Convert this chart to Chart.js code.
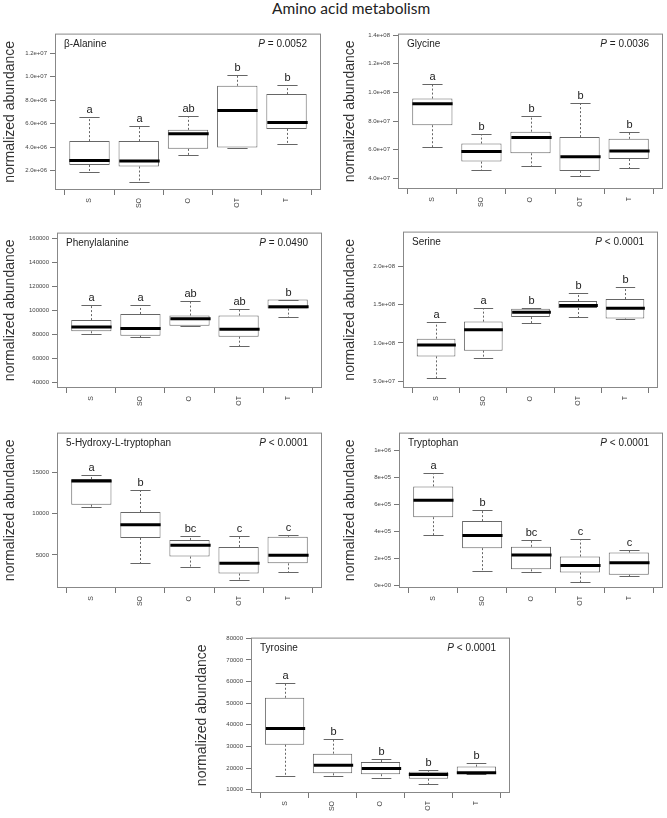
<!DOCTYPE html>
<html lang="en">
<head>
<meta charset="UTF-8">
<title>Amino acid metabolism</title>
<script src="https://cdn.jsdelivr.net/npm/chart.js"></script>
<style>
  body { margin: 0; width: 667px; height: 818px; overflow: hidden; background: #fff; position: relative; }
  #mainTitle { position: absolute; left: 272px; top: 0; font: 15.5px Lato, "Open Sans", sans-serif; line-height: 17px; color: #222; white-space: nowrap; }
  canvas { position: absolute; }
</style>
</head>
<body>
<div id="mainTitle">Amino acid metabolism</div>
<canvas id="c1"></canvas>
<canvas id="c2"></canvas>
<canvas id="c3"></canvas>
<canvas id="c4"></canvas>
<canvas id="c5"></canvas>
<canvas id="c6"></canvas>
<canvas id="c7"></canvas>
<script>
const groups = ['S', 'SO', 'O', 'OT', 'T'];

// β-Alanine
const alaMin = [1.86e6, 1.04e6, 3.37e6, 3.92e6, 4.27e6];
const alaQ1 = [2.49e6, 2.36e6, 3.86e6, 3.97e6, 5.56e6];
const alaMed = [2.88e6, 2.82e6, 5.15e6, 7.12e6, 6.11e6];
const alaQ3 = [4.52e6, 4.52e6, 5.48e6, 9.23e6, 8.52e6];
const alaMax = [6.58e6, 5.78e6, 6.66e6, 10.14e6, 9.26e6];
const alaLetters = ['a', 'a', 'ab', 'b', 'b'];
const alaTicks = [2e6, 4e6, 6e6, 8e6, 1e7, 1.2e7];
const alaTickLabels = ['2.0e+06', '4.0e+06', '6.0e+06', '8.0e+06', '1.0e+07', '1.2e+07'];
const alaRange = [0.36e6, 13.67e6];

// Glycine
const glyMin = [6.2e7, 4.56e7, 4.83e7, 4.16e7, 4.74e7];
const glyQ1 = [7.71e7, 5.17e7, 5.75e7, 4.52e7, 5.35e7];
const glyMed = [9.21e7, 5.87e7, 6.85e7, 5.51e7, 5.91e7];
const glyQ3 = [9.57e7, 6.43e7, 7.26e7, 6.88e7, 6.76e7];
const glyMax = [10.58e7, 7.08e7, 8.38e7, 9.24e7, 7.26e7];
const glyLetters = ['a', 'b', 'b', 'b', 'b'];
const glyTicks = [4e7, 6e7, 8e7, 1e8, 1.2e8, 1.4e8];
const glyTickLabels = ['4.0e+07', '6.0e+07', '8.0e+07', '1.0e+08', '1.2e+08', '1.4e+08'];
const glyRange = [3.26e7, 1.41e8];

// Phenylalanine
const pheMin = [80500, 77300, 86400, 69900, 94400];
const pheQ1 = [82400, 78700, 86900, 77900, 101300];
const pheMed = [85900, 84800, 92800, 84000, 102700];
const pheQ3 = [91700, 96800, 95500, 95500, 108800];
const pheMax = [104500, 104500, 107200, 100800, 108800];
const pheLetters = ['a', 'a', 'ab', 'ab', 'b'];
const pheTicks = [40000, 60000, 80000, 100000, 120000, 140000, 160000];
const pheTickLabels = ['40000', '60000', '80000', '100000', '120000', '140000', '160000'];
const pheRange = [35200, 164500];

// Serine
const serMin = [5.42e7, 8.07e7, 12.65e7, 13.36e7, 13.15e7];
const serQ1 = [8.24e7, 8.99e7, 13.36e7, 14.54e7, 13.19e7];
const serMed = [9.71e7, 11.72e7, 13.99e7, 14.87e7, 14.5e7];
const serQ3 = [10.55e7, 12.77e7, 14.45e7, 15.46e7, 15.71e7];
const serMax = [12.73e7, 14.54e7, 14.5e7, 16.51e7, 17.23e7];
const serLetters = ['a', 'a', 'b', 'b', 'b'];
const serTicks = [5e7, 1e8, 1.5e8, 2e8];
const serTickLabels = ['5.0e+07', '1.0e+08', '1.5e+08', '2.0e+08'];
const serRange = [4.12e7, 2.45e8];

// 5-Hydroxy-L-tryptophan
const htpMin = [10830, 3990, 3530, 1990, 2950];
const htpQ1 = [11060, 7050, 4810, 2760, 3990];
const htpMed = [13920, 8630, 6160, 3990, 4960];
const htpQ3 = [14150, 10180, 6810, 5970, 7200];
const htpMax = [14650, 12880, 7280, 7320, 7390];
const htpLetters = ['a', 'b', 'bc', 'c', 'c'];
const htpTicks = [5000, 10000, 15000];
const htpTickLabels = ['5000', '10000', '15000'];
const htpRange = [1020, 19750];

// Tryptophan
const trpMin = [3.74e5, 1.05e5, 1.0e5, 0.24e5, 0.67e5];
const trpQ1 = [5.05e5, 2.76e5, 1.19e5, 0.95e5, 0.79e5];
const trpMed = [6.31e5, 3.69e5, 2.26e5, 1.48e5, 1.67e5];
const trpQ3 = [7.33e5, 4.76e5, 2.86e5, 2.14e5, 2.43e5];
const trpMax = [8.33e5, 5.57e5, 3.33e5, 3.4e5, 2.62e5];
const trpLetters = ['a', 'b', 'bc', 'c', 'c'];
const trpTicks = [0, 2e5, 4e5, 6e5, 8e5, 1e6];
const trpTickLabels = ['0e+00', '2e+05', '4e+05', '6e+05', '8e+05', '1e+06'];
const trpRange = [-0.19e5, 1.131e6];

// Tyrosine
const tyrMin = [16500, 16200, 15400, 12700, 17400];
const tyrQ1 = [30800, 17600, 17200, 15100, 17500];
const tyrMed = [38300, 21300, 19800, 17000, 17900];
const tyrQ3 = [52500, 26700, 22800, 18300, 20700];
const tyrMax = [59500, 33500, 24300, 19000, 22400];
const tyrLetters = ['a', 'b', 'b', 'b', 'b'];
const tyrTicks = [10000, 20000, 30000, 40000, 50000, 60000, 70000, 80000];
const tyrTickLabels = ['10000', '20000', '30000', '40000', '50000', '60000', '70000', '80000'];
const tyrRange = [8510, 80300];

// plot box [left, top, right, bottom] and x of the y-axis title, page pixels
const panels = [
  { id: 'c1', name: 'β-Alanine', p: ' = 0.0052', min: alaMin, q1: alaQ1, med: alaMed, q3: alaQ3, max: alaMax,
    letters: alaLetters, ticks: alaTicks, tickLabels: alaTickLabels, range: alaRange, box: [55, 28, 321, 190], titleX: 10 },
  { id: 'c2', name: 'Glycine', p: ' = 0.0036', min: glyMin, q1: glyQ1, med: glyMed, q3: glyQ3, max: glyMax,
    letters: glyLetters, ticks: glyTicks, tickLabels: glyTickLabels, range: glyRange, box: [398, 28, 663, 189], titleX: 350 },
  { id: 'c3', name: 'Phenylalanine', p: ' = 0.0490', min: pheMin, q1: pheQ1, med: pheMed, q3: pheQ3, max: pheMax,
    letters: pheLetters, ticks: pheTicks, tickLabels: pheTickLabels, range: pheRange, box: [57, 227, 322, 388], titleX: 10 },
  { id: 'c4', name: 'Serine', p: ' < 0.0001', min: serMin, q1: serQ1, med: serMed, q3: serQ3, max: serMax,
    letters: serLetters, ticks: serTicks, tickLabels: serTickLabels, range: serRange, box: [403, 226, 658, 388], titleX: 350 },
  { id: 'c5', name: '5-Hydroxy-L-tryptophan', p: ' < 0.0001', min: htpMin, q1: htpQ1, med: htpMed, q3: htpQ3, max: htpMax,
    letters: htpLetters, ticks: htpTicks, tickLabels: htpTickLabels, range: htpRange, box: [57, 427, 322, 588], titleX: 10 },
  { id: 'c6', name: 'Tryptophan', p: ' < 0.0001', min: trpMin, q1: trpQ1, med: trpMed, q3: trpQ3, max: trpMax,
    letters: trpLetters, ticks: trpTicks, tickLabels: trpTickLabels, range: trpRange, box: [399, 427, 663, 588], titleX: 350 },
  { id: 'c7', name: 'Tyrosine', p: ' < 0.0001', min: tyrMin, q1: tyrQ1, med: tyrMed, q3: tyrQ3, max: tyrMax,
    letters: tyrLetters, ticks: tyrTicks, tickLabels: tyrTickLabels, range: tyrRange, box: [251, 632, 510, 793], titleX: 202 }
];

const FONT = '"Liberation Sans", Arial, sans-serif';

function line(ctx, x1, y1, x2, y2) {
  ctx.beginPath();
  ctx.moveTo(x1, y1);
  ctx.lineTo(x2, y2);
  ctx.stroke();
}

// whiskers, medians, letters, frame and the panel labels
function boxPlugin(p) {
  return {
    id: 'boxPlot',
    afterDatasetsDraw(chart) {
      const { ctx, chartArea: a, scales: { x, y } } = chart;
      const meta = chart.getDatasetMeta(0);
      ctx.save();
      groups.forEach((g, i) => {
        const cx = Math.round(x.getPixelForValue(i + 1)) + 0.5;
        const hw = meta.data[i].width / 2;
        const yMin = Math.round(y.getPixelForValue(p.min[i])) + 0.5;
        const yQ1 = y.getPixelForValue(p.q1[i]);
        const yMed = y.getPixelForValue(p.med[i]);
        const yQ3 = y.getPixelForValue(p.q3[i]);
        const yMax = Math.round(y.getPixelForValue(p.max[i])) + 0.5;

        ctx.strokeStyle = '#666';
        ctx.lineWidth = 1;
        ctx.setLineDash([2, 2]);
        if (yMax < yQ3 - 1) line(ctx, cx, yQ3, cx, yMax);
        if (yMin > yQ1 + 1) line(ctx, cx, yQ1, cx, yMin);
        ctx.setLineDash([]);
        line(ctx, cx - hw / 2, yMax, cx + hw / 2, yMax);
        line(ctx, cx - hw / 2, yMin, cx + hw / 2, yMin);

        ctx.strokeStyle = '#000';
        ctx.lineWidth = 3;
        line(ctx, cx - hw, yMed, cx + hw, yMed);

        ctx.fillStyle = '#222';
        ctx.font = '11px ' + FONT;
        ctx.textAlign = 'center';
        ctx.textBaseline = 'bottom';
        ctx.fillText(p.letters[i], cx, yMax - 2);
      });

      ctx.strokeStyle = '#888';
      ctx.lineWidth = 1;
      ctx.strokeRect(a.left + 0.5, a.top + 0.5, a.width - 1, a.height - 1);

      ctx.fillStyle = '#222';
      ctx.font = '10px ' + FONT;
      ctx.textBaseline = 'middle';
      ctx.textAlign = 'left';
      ctx.fillText(p.name, a.left + 9, a.top + 11);
      ctx.textAlign = 'right';
      const right = a.right - 14;
      ctx.fillText(p.p, right, a.top + 11);
      const w = ctx.measureText(p.p).width;
      ctx.font = 'italic 10px ' + FONT;
      ctx.fillText('P', right - w, a.top + 11);
      ctx.restore();
    }
  };
}

function makeChart(p) {
  const canvas = document.getElementById(p.id);
  const [bl, bt, br, bb] = p.box;
  const left = Math.round(p.titleX - 8);
  const top = bt - 1;
  const width = br - left + 2;
  const height = bb - top + 28;
  canvas.width = width;
  canvas.height = height;
  canvas.style.left = left + 'px';
  canvas.style.top = top + 'px';
  canvas.style.width = width + 'px';
  canvas.style.height = height + 'px';
  const axisW = bl - left;
  const axisH = height - (bb - top);

  new Chart(canvas, {
    type: 'bar',
    data: {
      datasets: [{
        data: groups.map((g, i) => ({ x: i + 1, y: [p.q1[i], p.q3[i]] })),
        backgroundColor: '#fff',
        borderColor: '#666',
        borderWidth: 1,
        borderSkipped: false,
        barPercentage: 0.82,
        categoryPercentage: 1
      }]
    },
    options: {
      responsive: false,
      animation: false,
      devicePixelRatio: 1,
      layout: { padding: { top: 1, right: 2, left: 0, bottom: 0 } },
      plugins: { legend: { display: false }, tooltip: { enabled: false } },
      scales: {
        x: {
          type: 'linear',
          min: 0.3,
          max: 5.7,
          offset: false,
          afterBuildTicks: s => { s.ticks = groups.map((g, i) => ({ value: i + 1 })); },
          afterFit: s => { s.height = axisH; },
          ticks: {
            autoSkip: false, minRotation: 90, maxRotation: 90,
            font: { size: 7, family: FONT }, color: '#444', padding: 3,
            callback: (v, i) => groups[i]
          },
          grid: { drawOnChartArea: false, drawTicks: true, tickLength: 5, color: '#777' },
          border: { display: false }
        },
        y: {
          type: 'linear',
          min: p.range[0],
          max: p.range[1],
          afterBuildTicks: s => { s.ticks = p.ticks.map(v => ({ value: v })); },
          afterFit: s => { s.width = axisW; },
          ticks: {
            font: { size: 6, family: FONT }, color: '#444', padding: 3,
            callback: (v, i) => p.tickLabels[i]
          },
          grid: { drawOnChartArea: false, drawTicks: true, tickLength: 5, color: '#777' },
          border: { display: false },
          title: {
            display: true, text: 'normalized abundance',
            font: { size: 14, family: FONT }, color: '#333', padding: 0
          }
        }
      }
    },
    plugins: [boxPlugin(p)]
  });
}

panels.forEach(makeChart);
</script>
</body>
</html>
